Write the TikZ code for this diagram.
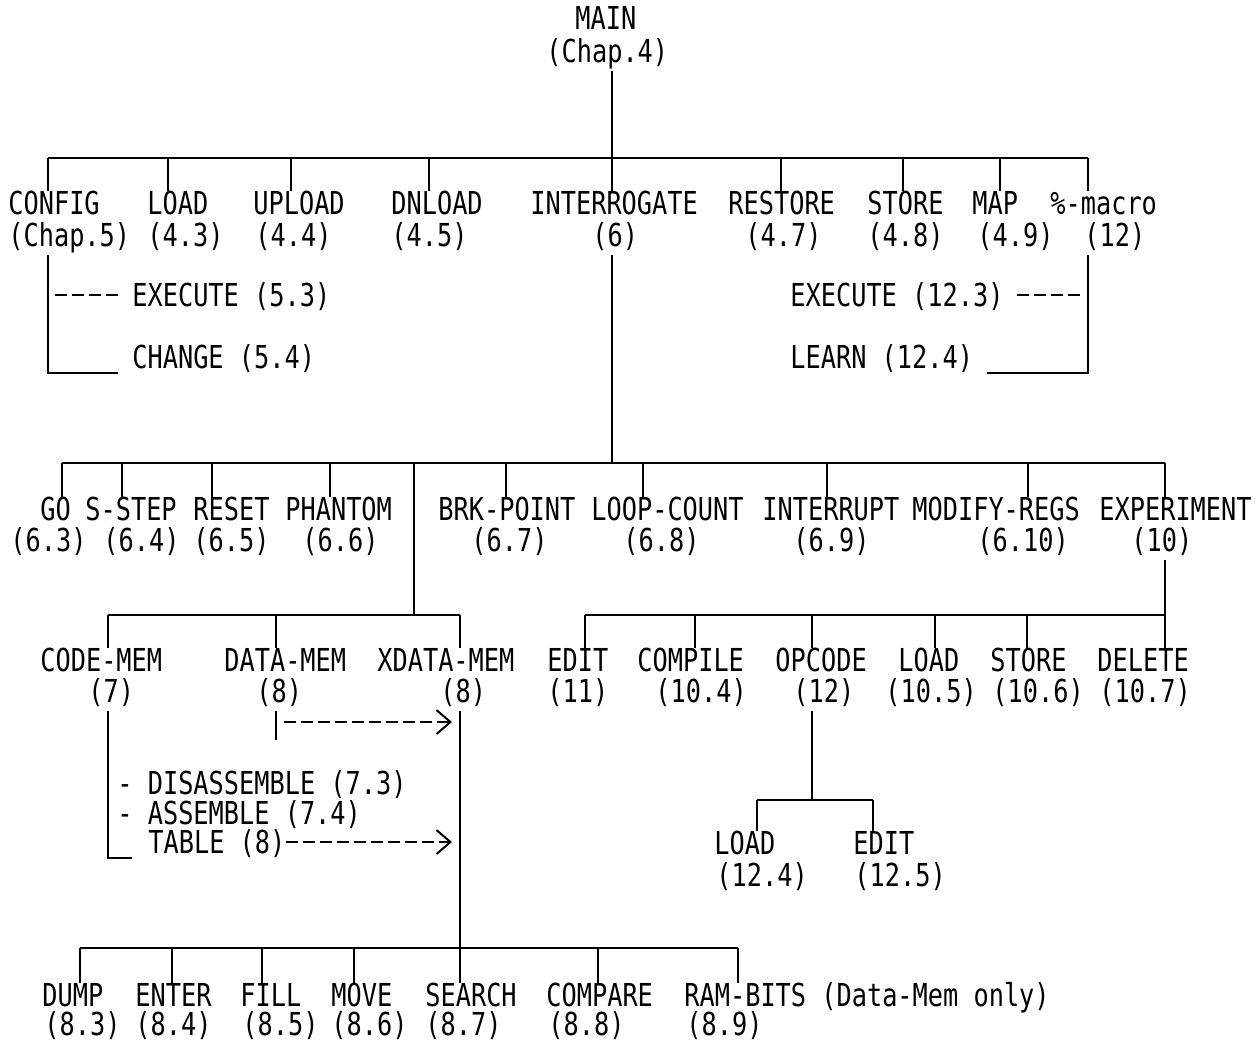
\documentclass[tikz,border=0pt]{standalone}
\usepackage{fontspec}
\setmainfont{DejaVu Sans Mono}[FakeStretch=0.8]
\usetikzlibrary{arrows.meta}

\begin{document}
\begin{tikzpicture}[x=0.5pt,y=-0.5pt,
    lbl/.style={anchor=west,inner sep=0pt,text height=11.5pt,text depth=0pt,
      font=\fontsize{15.8pt}{19pt}\selectfont},
    bus/.style={line width=1.4pt},
    stem/.style={line width=1pt,shorten <=4pt},
    dashline/.style={line width=1pt,dash pattern=on 6pt off 2.5pt},
    dasharrow/.style={dashline,-{Straight Barb[length=7pt,width=12pt]},shorten >=4pt}]
    \useasboundingbox (0,0) rectangle (1257,1041);
    \fill[white] (0,0) rectangle (1257,1041);
    % Top
    \node[lbl] (main) at (575,18) {MAIN};
    \node[lbl] (mainn) at (546,51) {(Chap.4)};
    % First level
    \node[lbl] (config) at (8,203) {CONFIG};
    \node[lbl] (confign) at (8,235) {(Chap.5)};
    \node[lbl] (load) at (147,203) {LOAD};
    \node[lbl] (loadn) at (147,235) {(4.3)};
    \node[lbl] (upload) at (253,203) {UPLOAD};
    \node[lbl] (uploadn) at (255,235) {(4.4)};
    \node[lbl] (dnload) at (391,203) {DNLOAD};
    \node[lbl] (dnloadn) at (391,235) {(4.5)};
    \node[lbl] (interrogate) at (530,203) {INTERROGATE};
    \node[lbl] (interrogaten) at (592,235) {(6)};
    \node[lbl] (restore) at (728,203) {RESTORE};
    \node[lbl] (restoren) at (745,235) {(4.7)};
    \node[lbl] (store) at (867,203) {STORE};
    \node[lbl] (storen) at (867,235) {(4.8)};
    \node[lbl] (map) at (972,203) {MAP};
    \node[lbl] (mapn) at (977,235) {(4.9)};
    \node[lbl] (macro) at (1050,203) {\%-macro};
    \node[lbl] (macron) at (1084,235) {(12)};
    % Config and macro sub-commands
    \node[lbl] (execa) at (132,295) {EXECUTE (5.3)};
    \node[lbl] (change) at (132,357) {CHANGE (5.4)};
    \node[lbl] (execb) at (790,295) {EXECUTE (12.3)};
    \node[lbl] (learn) at (790,357) {LEARN (12.4)};
    % Interrogate level
    \node[lbl] (go) at (40,509) {GO};
    \node[lbl] (gon) at (10,540) {(6.3)};
    \node[lbl] (sstep) at (85,509) {S-STEP};
    \node[lbl] (sstepn) at (103,540) {(6.4)};
    \node[lbl] (reset) at (193,509) {RESET};
    \node[lbl] (resetn) at (193,540) {(6.5)};
    \node[lbl] (phantom) at (285,509) {PHANTOM};
    \node[lbl] (phantomn) at (302,540) {(6.6)};
    \node[lbl] (brkpoint) at (438,509) {BRK-POINT};
    \node[lbl] (brkpointn) at (471,540) {(6.7)};
    \node[lbl] (loopcount) at (591,509) {LOOP-COUNT};
    \node[lbl] (loopcountn) at (623,540) {(6.8)};
    \node[lbl] (interrupt) at (762,509) {INTERRUPT};
    \node[lbl] (interruptn) at (793,540) {(6.9)};
    \node[lbl] (modify) at (912,509) {MODIFY-REGS};
    \node[lbl] (modifyn) at (977,540) {(6.10)};
    \node[lbl] (experiment) at (1099,509) {EXPERIMENT};
    \node[lbl] (experimentn) at (1131,540) {(10)};
    % Memory level
    \node[lbl] (codemem) at (40,660) {CODE-MEM};
    \node[lbl] (codememn) at (88,691) {(7)};
    \node[lbl] (datamem) at (224,660) {DATA-MEM};
    \node[lbl] (datamemn) at (256,691) {(8)};
    \node[lbl] (xdatamem) at (377,660) {XDATA-MEM};
    \node[lbl] (xdatamemn) at (440,691) {(8)};
    % Experiment level
    \node[lbl] (edit) at (547,660) {EDIT};
    \node[lbl] (editn) at (547,691) {(11)};
    \node[lbl] (compile) at (637,660) {COMPILE};
    \node[lbl] (compilen) at (655,691) {(10.4)};
    \node[lbl] (opcode) at (775,660) {OPCODE};
    \node[lbl] (opcoden) at (793,691) {(12)};
    \node[lbl] (xload) at (898,660) {LOAD};
    \node[lbl] (xloadn) at (885,691) {(10.5)};
    \node[lbl] (xstore) at (990,660) {STORE};
    \node[lbl] (xstoren) at (992,691) {(10.6)};
    \node[lbl] (delete) at (1097,660) {DELETE};
    \node[lbl] (deleten) at (1099,691) {(10.7)};
    % Opcode level
    \node[lbl] (opload) at (714,843) {LOAD};
    \node[lbl] (oploadn) at (716,875) {(12.4)};
    \node[lbl] (opedit) at (853,843) {EDIT};
    \node[lbl] (opeditn) at (854,875) {(12.5)};
    % Code-mem items
    \node[lbl] (disasm) at (117,783) {- DISASSEMBLE (7.3)};
    \node[lbl] (asm) at (117,813) {- ASSEMBLE (7.4)};
    \node[lbl] (table) at (148,842) {TABLE (8)};
    % Data-mem commands
    \node[lbl] (dump) at (42,995) {DUMP};
    \node[lbl] (dumpn) at (44,1024) {(8.3)};
    \node[lbl] (enter) at (135,995) {ENTER};
    \node[lbl] (entern) at (135,1024) {(8.4)};
    \node[lbl] (fill) at (240,995) {FILL};
    \node[lbl] (filln) at (242,1024) {(8.5)};
    \node[lbl] (move) at (331,995) {MOVE};
    \node[lbl] (moven) at (331,1024) {(8.6)};
    \node[lbl] (search) at (425,995) {SEARCH};
    \node[lbl] (searchn) at (425,1024) {(8.7)};
    \node[lbl] (compare) at (546,995) {COMPARE};
    \node[lbl] (comparen) at (548,1024) {(8.8)};
    \node[lbl] (rambits) at (684,995) {RAM-BITS (Data-Mem only)};
    \node[lbl] (rambitsn) at (686,1024) {(8.9)};
    % Main trunk and first bus
    \draw[stem] (612,0 |- mainn.south) -- (612,0 |- interrogate.north);
    \draw[bus] (48,158) -- (1088,158);
    \foreach \x/\n in {48/config,168/load,291/upload,429/dnload,781/restore,903/store,1000/map,1088/macro}
        \draw[line width=1pt] (\x,158) -- (\x,0 |- \n.north);
    % Brackets
    \draw[stem] (48,0 |- confign.south) -- (48,373) -- (118,373);
    \draw[dashline] (55,295) -- (118,295);
    \draw[stem] (1088,0 |- macron.south) -- (1088,373) -- (987,373);
    \draw[dashline] (1017,295) -- (1080,295);
    % Interrogate bus
    \draw[stem] (612,0 |- interrogaten.south) -- (612,463);
    \draw[bus] (62,463) -- (1165,463);
    \foreach \x/\n in {62/go,122/sstep,212/reset,330/phantom,506/brkpoint,643/loopcount,827/interrupt,1028/modify,1165/experiment}
        \draw[line width=1pt] (\x,463) -- (\x,0 |- \n.north);
    \draw[line width=1pt] (414,463) -- (414,615);
    % Memory bus
    \draw[bus] (108,615) -- (460,615);
    \foreach \x/\n in {108/codemem,276/datamem,460/xdatamem}
        \draw[line width=1pt] (\x,615) -- (\x,0 |- \n.north);
    % Experiment bus
    \draw[stem] (1165,0 |- experimentn.south) -- (1165,0 |- delete.north);
    \draw[bus] (585,615) -- (1165,615);
    \foreach \x/\n in {585/edit,695/compile,812/opcode,935/xload,1027/xstore}
        \draw[line width=1pt] (\x,615) -- (\x,0 |- \n.north);
    % Opcode bus
    \draw[stem] (812,0 |- opcoden.south) -- (812,800);
    \draw[bus] (757,800) -- (873,800);
    \foreach \x/\n in {757/opload,873/opedit}
        \draw[line width=1pt] (\x,800) -- (\x,0 |- \n.north);
    % Code-mem bracket and table arrows
    \draw[stem] (108,0 |- codememn.south) -- (108,858) -- (132,858);
    \draw[stem] (276,0 |- datamemn.south) -- (276,740);
    \draw[dasharrow] (284,722) -- (460,722);
    \draw[dasharrow] (table.east) -- (460,0 |- table.east);
    % Xdata trunk and last bus
    \draw[stem] (460,0 |- xdatamemn.south) -- (460,0 |- search.north);
    \draw[bus] (80,948) -- (738,948);
    \foreach \x/\n in {80/dump,172/enter,262/fill,354/move,598/compare,738/rambits}
        \draw[line width=1pt] (\x,948) -- (\x,0 |- \n.north);
\end{tikzpicture}
\end{document}
